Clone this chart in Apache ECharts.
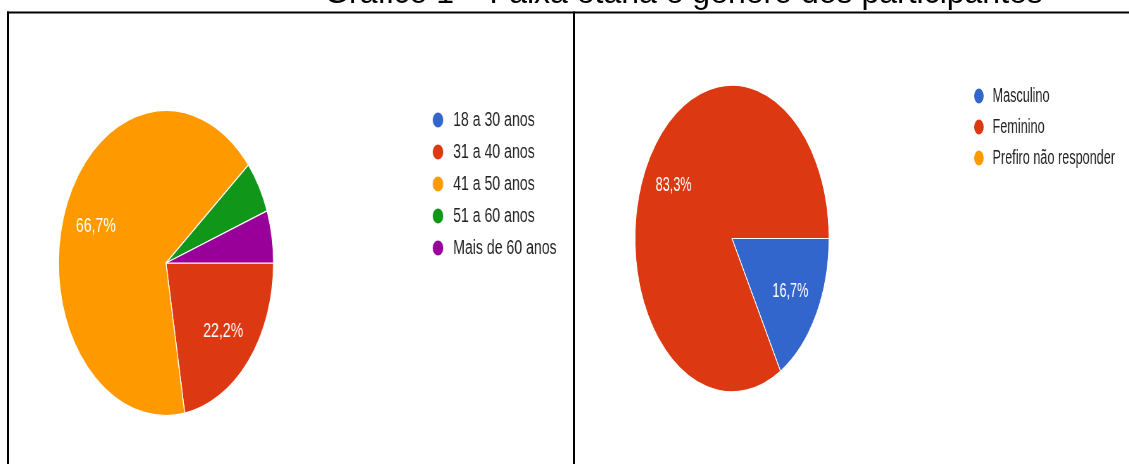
<!DOCTYPE html>
<html>
<head>
<meta charset="utf-8">
<script src="https://cdn.jsdelivr.net/npm/echarts@6/dist/echarts.min.js"></script>
<style>
  html, body { margin: 0; padding: 0; background: #fff; overflow: hidden; }
  #frame { position: absolute; left: 0; top: 0; width: 1129px; height: 464px; }
  /* pies are drawn round and squeezed horizontally into ellipses */
  #agePie { position: absolute; left: 9px; top: 14px; width: 800px; height: 450px;
            transform-origin: 0 0; transform: scaleX(0.705); }
  #genderPie { position: absolute; left: 576px; top: 14px; width: 874px; height: 450px;
               transform-origin: 0 0; transform: scaleX(0.633); }
</style>
</head>
<body>
<div id="frame"></div>
<div id="agePie"></div>
<div id="genderPie"></div>
<script>
// Title
const chartTitle = 'Gráfico 1 – Faixa etária e gênero dos participantes';

// Age groups (number of participants)
const ageCategories = ['18 a 30 anos', '31 a 40 anos', '41 a 50 anos', '51 a 60 anos', 'Mais de 60 anos'];
const ageCounts = [0, 4, 12, 1, 1];
const ageColors = ['#3366cc', '#dc3912', '#ff9900', '#109618', '#990099'];

// Gender (number of participants)
const genderCategories = ['Masculino', 'Feminino', 'Prefiro não responder'];
const genderCounts = [1, 5, 0];
const genderColors = ['#3366cc', '#dc3912', '#ff9900'];

// Frame: title and panel borders
const frame = echarts.init(document.getElementById('frame'));
frame.setOption({
  animation: false,
  graphic: [
    { type: 'text', x: 683.5, y: -6,
      style: { text: chartTitle, fill: '#000', font: '32px "Liberation Sans", Arial, sans-serif',
               textAlign: 'center', textVerticalAlign: 'middle' } },
    { type: 'line', shape: { x1: 7, y1: 12.5, x2: 1129, y2: 12.5 }, style: { stroke: '#000', lineWidth: 2 } },
    { type: 'line', shape: { x1: 8, y1: 11.5, x2: 8, y2: 464 }, style: { stroke: '#000', lineWidth: 2 } },
    { type: 'line', shape: { x1: 574, y1: 11.5, x2: 574, y2: 464 }, style: { stroke: '#000', lineWidth: 2 } }
  ]
});

// Moves the percentage labels outward along each slice's bisector
function labelShift(values, radius, frac) {
  const total = values.reduce((a, b) => a + b, 0);
  const mids = [];
  let acc = 0;
  values.forEach(v => { mids.push((acc + v / 2) / total * 2 * Math.PI); acc += v; });
  const extra = radius * (frac - 0.5);
  return p => ({ dx: Math.cos(mids[p.dataIndex]) * extra, dy: Math.sin(mids[p.dataIndex]) * extra });
}

function pieOption(categories, counts, colors, center, radius, legendPos, rowGap) {
  return {
    animation: false,
    color: colors,
    legend: {
      orient: 'vertical',
      left: legendPos[0], top: legendPos[1], padding: 0,
      icon: 'circle', itemWidth: 17, itemHeight: 17, itemGap: rowGap,
      selectedMode: false,
      textStyle: { color: '#222', fontSize: 20, lineHeight: 20,
                   fontFamily: '"Liberation Sans", Arial, sans-serif', padding: [0, 0, 0, 8] },
      data: categories
    },
    series: [{
      type: 'pie',
      center: center,
      radius: radius,
      startAngle: 0,
      clockwise: true,
      avoidLabelOverlap: false,
      emphasis: { disabled: true },
      itemStyle: { borderColor: '#fff', borderWidth: 1.2 },
      label: {
        show: true, position: 'inside', color: '#fff', fontSize: 20,
        fontFamily: '"Liberation Sans", Arial, sans-serif',
        formatter: p => p.percent >= 10 ? p.percent.toFixed(1).replace('.', ',') + '%' : ''
      },
      labelLine: { show: false },
      labelLayout: labelShift(counts, radius, 0.675),
      data: categories.map((name, i) => ({ name: name, value: counts[i] }))
    }]
  };
}

const agePie = echarts.init(document.getElementById('agePie'));
agePie.setOption(pieOption(ageCategories, ageCounts, ageColors, [222.7, 249], 152.5, [599, 96], 12));

const genderPie = echarts.init(document.getElementById('genderPie'));
genderPie.setOption(pieOption(genderCategories, genderCounts, genderColors, [246.4, 224.5], 153.3, [627, 72], 11));
</script>
</body>
</html>
